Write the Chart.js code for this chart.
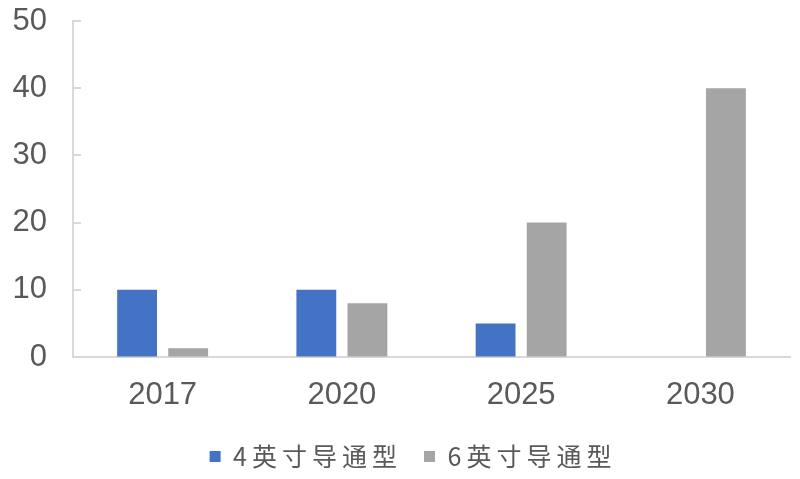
<!DOCTYPE html>
<html>
<head>
<meta charset="utf-8">
<script src="https://cdn.jsdelivr.net/npm/chart.js@4"></script>
<style>
  html, body { margin: 0; padding: 0; background: #fff; }
  #wrap { width: 800px; height: 479px; }
</style>
</head>
<body>
<div id="wrap"><canvas id="chart"></canvas></div>
<script>
const years = ['2017', '2020', '2025', '2030'];
const inch4 = [10, 10, 5, 0];
const inch6 = [1.3, 8, 20, 40];
const seriesNames = ['4英寸导通型', '6英寸导通型'];
const yTicks = [0, 10, 20, 30, 40, 50];

// small tick marks on the inside of the y axis
const innerTicks = {
    id: 'inner-ticks',
    afterDraw(chart) {
        const {ctx, chartArea} = chart;
        const y = chart.scales.y;
        ctx.save();
        ctx.strokeStyle = '#d9d9d9';
        ctx.lineWidth = 2;
        yTicks.forEach(v => {
            const py = Math.round(y.getPixelForValue(v));
            ctx.beginPath();
            ctx.moveTo(chartArea.left, py);
            ctx.lineTo(chartArea.left + 8, py);
            ctx.stroke();
        });
        ctx.restore();
    }
};

const numFont = {family: "'Liberation Sans', Arial, sans-serif", size: 31};

const chart = new Chart(document.getElementById('chart'), {
    type: 'bar',
    data: {
        labels: years,
        datasets: [
            {label: seriesNames[0], data: inch4, backgroundColor: '#4472c4'},
            {label: seriesNames[1], data: inch6, backgroundColor: '#a5a5a5'}
        ]
    },
    options: {
        responsive: true,
        maintainAspectRatio: false,
        animation: false,
        devicePixelRatio: 1,
        layout: {padding: {top: 21, right: 10, left: 0, bottom: 0}},
        datasets: {
            bar: {categoryPercentage: 0.57, barPercentage: 0.78}
        },
        scales: {
            x: {
                grid: {display: true, drawOnChartArea: false, drawTicks: false},
                border: {display: true, color: '#d9d9d9', width: 2},
                afterFit(scale) { scale.height = 65; },
                ticks: {color: '#595959', padding: 20, font: numFont}
            },
            y: {
                min: 0,
                max: 50,
                grid: {display: true, drawOnChartArea: false, drawTicks: false},
                border: {display: true, color: '#d9d9d9', width: 2},
                afterFit(scale) {
                    scale.width = 73;
                    scale.paddingTop = 0;
                    scale.paddingBottom = 0;
                },
                afterBuildTicks(scale) {
                    scale.ticks = yTicks.map(v => ({value: v}));
                },
                ticks: {color: '#595959', padding: 26, font: numFont}
            }
        },
        plugins: {
            legend: {
                position: 'bottom',
                labels: {
                    color: '#595959',
                    boxWidth: 11,
                    boxHeight: 11,
                    padding: 22,
                    font: {family: "'Noto Sans CJK SC', sans-serif", size: 25}
                }
            },
            tooltip: {enabled: false}
        }
    },
    plugins: [innerTicks]
});

// legend text in the picture is spaced out and sits a bit right of centre
const lg = chart.legend;
const fitLegend = lg.fit.bind(lg);
const drawLegend = lg.draw.bind(lg);
lg.fit = function () {
    chart.ctx.letterSpacing = '5px';
    fitLegend();
    chart.ctx.letterSpacing = '0px';
};
lg.draw = function () {
    const ctx = chart.ctx;
    ctx.save();
    ctx.translate(18, 0);
    ctx.letterSpacing = '5px';
    drawLegend();
    ctx.restore();
    ctx.letterSpacing = '0px';
};
chart.update();
</script>
</body>
</html>
